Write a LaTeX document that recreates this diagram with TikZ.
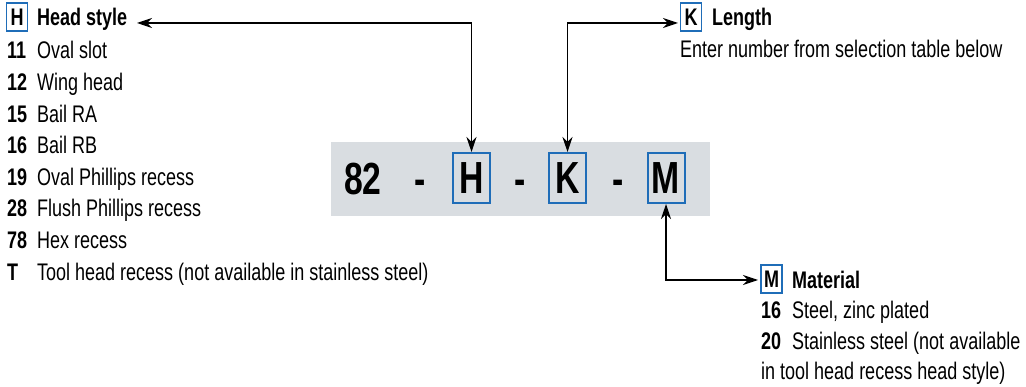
\documentclass[tikz,border=0pt]{standalone}
\usepackage{fontspec}
\setmainfont[FakeStretch=0.75]{Liberation Sans}
\usetikzlibrary{arrows.meta}
\definecolor{boxblue}{HTML}{1F6DB8}
\definecolor{graybg}{HTML}{D9DDE1}
\begin{document}
\begin{tikzpicture}[x=1pt,y=-1pt,
 txt/.style={anchor=base west, inner sep=0, font=\fontsize{24}{28}\selectfont},
 num/.style={anchor=base west, inner sep=0, font=\fontsize{24}{28}\selectfont\bfseries},
 lbl/.style={draw=boxblue, line width=1.3pt, minimum width=21pt, minimum height=28pt, inner sep=0, font=\fontsize{24}{28}\selectfont\bfseries},
 big/.style={draw=boxblue, line width=2pt, minimum width=37pt, minimum height=50pt, inner sep=0, font=\fontsize{45}{50}\selectfont\bfseries},
 bigtxt/.style={anchor=base, inner sep=0, font=\fontsize{45}{50}\selectfont\bfseries},
 conn/.style={line width=1.2pt, {Stealth[length=15pt,width=10pt]}-{Stealth[length=15pt,width=10pt]}}]
\useasboundingbox (0,0) rectangle (1026,387);
% code band
\node[fill=graybg, minimum width=379pt, minimum height=74pt, inner sep=0] (band) at (520.5,179) {};
\node[bigtxt] (n82) at (363,195) {82};
\node[bigtxt] (d1) at (420,195) {-};
\node[bigtxt] (d2) at (520,195) {-};
\node[bigtxt] (d3) at (618,195) {-};
\node[big] (bH) at (471.5,178) {H};
\node[big] (bK) at (567.5,178) {K};
\node[big] (bM) at (666,178) {M};
% H legend
\node[lbl] (lH) at (17,17) {H};
\node[num] (hT) at (37,26) {Head style};
\node[num] (h1n) at (7,59) {11};  \node[txt] (h1) at (37,59) {Oval slot};
\node[num] (h2n) at (7,91) {12};  \node[txt] (h2) at (37,91) {Wing head};
\node[num] (h3n) at (7,123) {15}; \node[txt] (h3) at (37,123) {Bail RA};
\node[num] (h4n) at (7,154) {16}; \node[txt] (h4) at (37,154) {Bail RB};
\node[num] (h5n) at (7,186) {19}; \node[txt] (h5) at (37,186) {Oval Phillips recess};
\node[num] (h6n) at (7,217) {28}; \node[txt] (h6) at (37,217) {Flush Phillips recess};
\node[num] (h7n) at (7,249) {78}; \node[txt] (h7) at (37,249) {Hex recess};
\node[num] (h8n) at (7,281) {T};  \node[txt] (h8) at (37,281) {Tool head recess (not available in stainless steel)};
% K legend
\node[lbl] (lK) at (691,17) {K};
\node[num] (kT) at (712,26) {Length};
\node[txt] (k1) at (680,58) {Enter number from selection table below};
% M legend
\node[lbl] (lM) at (771.5,279) {M};
\node[num] (mT) at (792,289) {Material};
\node[num] (m1n) at (761,319) {16}; \node[txt] (m1) at (792,319) {Steel, zinc plated};
\node[num] (m2n) at (761,350) {20}; \node[txt] (m2) at (792,350) {Stainless steel (not available};
\node[txt] (m3) at (761,380) {in tool head recess head style)};
% connectors
\coordinate (hTip) at (137,23);
\coordinate (kTip) at (678,23);
\coordinate (mTip) at (758,280);
\draw[conn] (hTip) -| (bH.north);
\draw[conn] (bK.north) |- (kTip);
\draw[conn] (bM.south) |- (mTip);
\end{tikzpicture}
\end{document}
